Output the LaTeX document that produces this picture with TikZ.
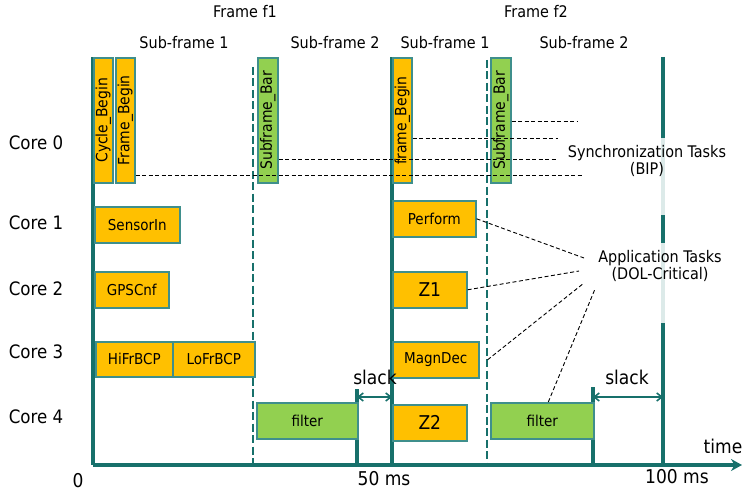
\documentclass[tikz,border=0pt]{standalone}
\usepackage{fontspec}
\setmainfont{DejaVu Sans Condensed}
\usetikzlibrary{arrows.meta}
\definecolor{tealA}{HTML}{17706B}
\definecolor{bord}{HTML}{3F8F8C}
\definecolor{org}{HTML}{FFC000}
\definecolor{grn}{HTML}{92D050}
\begin{document}
\begin{tikzpicture}[x=1pt,y=-1pt,
  axisline/.style={draw=tealA,line width=3.2pt},
  frameline/.style={draw=tealA,line width=2.6pt,dash pattern=on 8pt off 3.5pt},
  tbox/.style={draw=bord,line width=1.6pt,inner sep=0pt,anchor=north west,font=\fontsize{15}{15}\selectfont},
  obox/.style={tbox,fill=org},
  gbox/.style={tbox,fill=grn},
  vtext/.style={rotate=90,font=\fontsize{15.5}{15.5}\selectfont,inner sep=0pt},
  dashline/.style={draw=black,line width=0.9pt,dash pattern=on 4pt off 2.5pt},
  corelbl/.style={font=\fontsize{18.5}{18.5}\selectfont},
  toplbl/.style={font=\fontsize{16}{16}\selectfont},
  biglbl/.style={font=\fontsize{19}{19}\selectfont},
  slackarr/.style={draw=tealA,line width=1.6pt,{Straight Barb[length=5pt,width=8pt]}-{Straight Barb[length=5pt,width=8pt]}}
]
\useasboundingbox (0,0) rectangle (743,497);
% frame lines
\draw[frameline] (253,67) -- (253,465);
\draw[frameline] (487,60) -- (487,465);
\draw[axisline] (357,389) -- (357,465);
\draw[axisline] (392,57) -- (392,465);
\draw[axisline] (593,387) -- (593,465);
\draw[axisline] (663,57) -- (663,138);
\draw[axisline] (663,215) -- (663,243);
\draw[axisline] (663,323) -- (663,465);
\draw[draw=tealA!15,line width=3.2pt] (663,138) -- (663,215);
\draw[draw=tealA!15,line width=3.2pt] (663,243) -- (663,323);
% axes
\coordinate (o) at (93,465);
\coordinate (ytop) at (93,57);
\coordinate (xend) at (742,465);
\draw[axisline] (ytop) -- (o);
\draw[axisline,-{Stealth[length=11pt,width=12pt]}] (o) -- (xend);
% sync task boxes
\node[obox,minimum width=19,minimum height=125] (cb) at (93,57) {};
\node[vtext] at (cb.center) {Cycle\_Begin};
\node[obox,minimum width=19,minimum height=125] (fb) at (115,57) {};
\node[vtext] at (fb.center) {Frame\_Begin};
\node[gbox,minimum width=20,minimum height=125] (sb) at (257,57) {};
\node[vtext] at (sb.center) {Subframe\_Bar};
\node[obox,minimum width=19,minimum height=125] (fb2) at (392,57) {};
\node[vtext] at (fb2.center) {frame\_Begin};
\node[gbox,minimum width=20,minimum height=125] (sb2) at (490,57) {};
\node[vtext] at (sb2.center) {Subframe\_Bar};
% sync dashed lines
\coordinate (s1) at (582,175);
\coordinate (s2) at (558,159);
\coordinate (s3) at (558,138);
\coordinate (s4) at (578,121);
\draw[dashline] (fb.east |- s1) -- (s1);
\draw[dashline] (sb.east |- s2) -- (s2);
\draw[dashline] (fb2.east |- s3) -- (s3);
\draw[dashline] (sb2.east |- s4) -- (s4);
\node[toplbl,align=center] (sync) at (647,161) {Synchronization Tasks\\[1pt](BIP)};
% application tasks
\node[obox,minimum width=85,minimum height=36] (sensor) at (94,206) {SensorIn};
\node[obox,minimum width=74,minimum height=36] (gps) at (94,271) {GPSCnf};
\node[obox,minimum width=77,minimum height=35] (hifr) at (95,341) {HiFrBCP};
\node[obox,minimum width=82,minimum height=35] (lofr) at (172,341) {LoFrBCP};
\node[gbox,minimum width=101,minimum height=36] (filt1) at (256,402) {filter};
\node[obox,minimum width=83,minimum height=36] (perf) at (392,200) {Perform};
\node[obox,minimum width=74,minimum height=36,font=\fontsize{19}{19}\selectfont] (z1) at (392,271) {Z1};
\node[obox,minimum width=86,minimum height=36] (magn) at (392,341) {MagnDec};
\node[obox,minimum width=74,minimum height=36,font=\fontsize{19}{19}\selectfont] (z2) at (392,404) {Z2};
\node[gbox,minimum width=103,minimum height=36] (filt2) at (490,402) {filter};
\node[toplbl,align=center] (app) at (660,266) {Application Tasks\\[1pt](DOL-Critical)};
\coordinate (a1) at (584,258);
\coordinate (a2) at (579,271);
\coordinate (a3) at (584,283);
\coordinate (a4) at (595,289);
\draw[dashline] (perf.east) -- (a1);
\draw[dashline] (z1.east) -- (a2);
\draw[dashline] ([xshift=8pt]magn.east) -- (a3);
\draw[dashline] ([xshift=6pt]filt2.north) -- (a4);
% slack
\coordinate (k1a) at (357,397);
\coordinate (k1b) at (392,397);
\coordinate (k2a) at (593,397);
\coordinate (k2b) at (663,397);
\draw[slackarr] (k1a) -- (k1b);
\draw[slackarr] (k2a) -- (k2b);
\node[biglbl] (sl1) at (375,377) {slack};
\node[biglbl] (sl2) at (627,377) {slack};
% core labels
\node[corelbl] (c0) at (36,143) {Core 0};
\node[corelbl] (c1) at (36,223) {Core 1};
\node[corelbl] (c2) at (36,289) {Core 2};
\node[corelbl] (c3) at (36,352) {Core 3};
\node[corelbl] (c4) at (36,417) {Core 4};
% top labels
\node[toplbl] (ff1) at (245,12) {Frame f1};
\node[toplbl] (sf11) at (184,43) {Sub-frame 1};
\node[toplbl] (sf12) at (335,43) {Sub-frame 2};
\node[toplbl] (ff2) at (536,12) {Frame f2};
\node[toplbl] (sf21) at (445,43) {Sub-frame 1};
\node[toplbl] (sf22) at (584,43) {Sub-frame 2};
% bottom labels
\node[biglbl] (t0) at (78,481) {0};
\node[biglbl] (t50) at (384,479) {50 ms};
\node[biglbl] (t100) at (677,477) {100 ms};
\node[biglbl] (ttime) at (723,446) {time};
\end{tikzpicture}
\end{document}
